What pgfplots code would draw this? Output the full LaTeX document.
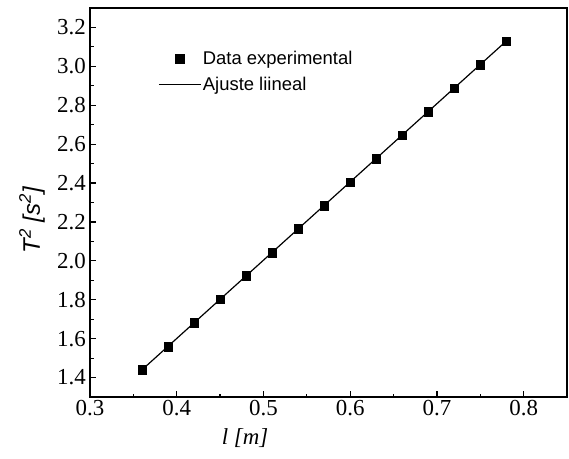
\documentclass[border=0pt]{standalone}
\usepackage{fontspec}
\setmainfont{Liberation Serif}
\setsansfont{Liberation Sans}
\usepackage{pgfplots}
\pgfplotsset{compat=1.18}
\pgfplotsset{
  legmark/.style={legend image code/.code={\draw[mark repeat=2,mark phase=2,##1] plot coordinates {(0bp,0bp) (21bp,0bp) (42bp,0bp)};}},
  legline/.style={legend image code/.code={\draw[##1] (0bp,0bp) -- (42bp,0bp);}},
}
\begin{document}
\begin{tikzpicture}
\begin{axis}[
  scale only axis,
  width=477bp, height=389bp,
  xmin=0.3, xmax=0.85, ymin=1.3, ymax=3.3,
  xtick={0.3,0.4,0.5,0.6,0.7,0.8},
  ytick={1.4,1.6,1.8,2.0,2.2,2.4,2.6,2.8,3.0,3.2},
  minor x tick num=1, minor y tick num=1,
  xticklabel style={inner sep=3bp, /pgf/number format/.cd,fixed,fixed zerofill,precision=1},
  yticklabel style={inner sep=4bp, /pgf/number format/.cd,fixed,fixed zerofill,precision=1},
  /pgf/number format/assume math mode=true,
  ticklabel style={font=\fontsize{23}{25}\selectfont},
  tick align=inside,
  xtick pos=bottom, ytick pos=left,
  major tick length=6bp, minor tick length=3.5bp,
  tick style={line width=1.2pt, black},
  axis line style={line width=1.7pt},
  xlabel={\fontsize{23}{25}\selectfont\itshape l [m]},
  ylabel={\fontsize{24}{26}\selectfont\sffamily\itshape T\textsuperscript{2} [s\textsuperscript{2}]},
  xlabel style={at={(axis description cs:0.325,-0.105)}, anchor=center},
  ylabel style={at={(axis description cs:-0.1216,0.455)}, anchor=center},
  legend style={draw=none, fill=none, at={(0.1426,0.893)}, anchor=north west,
    inner sep=0pt, font=\sffamily\fontsize{18.5}{20}\selectfont, row sep=8bp,
    nodes={inner sep=1.5bp}},
  legend cell align=left,
]
\addplot[only marks, mark=square*, mark size=4.3bp, black, legmark] coordinates {
(0.36,1.440) (0.39,1.560) (0.42,1.681) (0.45,1.802) (0.48,1.923)
(0.51,2.043) (0.54,2.164) (0.57,2.285) (0.60,2.405) (0.63,2.526)
(0.66,2.647) (0.69,2.768) (0.72,2.888) (0.75,3.009) (0.78,3.130)
};
\addlegendentry{Data experimental}
\addplot[black, line width=1.2pt, legline] coordinates {(0.36,1.440) (0.78,3.130)};
\addlegendentry{Ajuste liineal}
\end{axis}
\pgfresetboundingbox
\path (current axis.south west) ++(-90bp,-61bp) rectangle ([xshift=2bp,yshift=8bp]current axis.north east);
\end{tikzpicture}
\end{document}
